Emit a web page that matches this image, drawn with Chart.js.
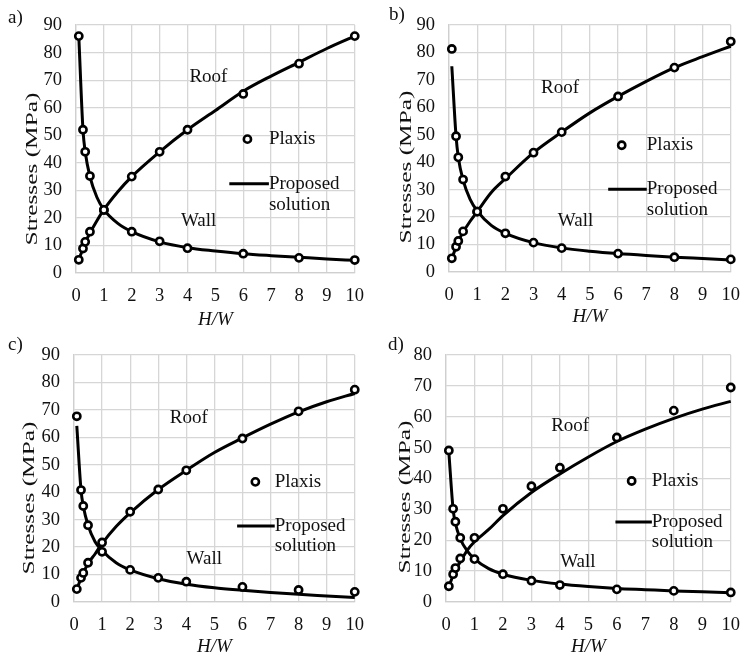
<!DOCTYPE html>
<html>
<head>
<meta charset="utf-8">
<script src="https://cdn.jsdelivr.net/npm/chart.js@4.4.1/dist/chart.umd.min.js"></script>
<style>
  body { margin: 0; background: #fff; }
  .panel { position: absolute; width: 376px; height: 330px; }
</style>
</head>
<body>
<div class="panel" style="left:0;top:0"><canvas id="chartA"></canvas></div>
<div class="panel" style="left:376px;top:0"><canvas id="chartB"></canvas></div>
<div class="panel" style="left:0;top:330px"><canvas id="chartC"></canvas></div>
<div class="panel" style="left:376px;top:330px"><canvas id="chartD"></canvas></div>
<script>
// H/W values
const hwPlaxis = [0.1, 0.25, 0.33, 0.5, 1, 2, 3, 4, 6, 8, 10];
const hwCurve = [0.1, 0.25, 0.33, 0.5, 0.75, 1, 1.5, 2, 3, 4, 5, 6, 7, 8, 9, 10];
const xTicks = [0, 1, 2, 3, 4, 5, 6, 7, 8, 9, 10];

// a)
const roofPlaxisA = [4.8, 8.9, 11.3, 15, 22.9, 35, 44, 52, 65, 76, 86];
const wallPlaxisA = [86, 52, 44, 35.2, 22.9, 15, 11.5, 9, 7, 5.5, 4.7];
const roofCurveA = [4.8, 8.9, 11, 14.5, 19, 23, 29.5, 35, 44, 52, 59, 66, 71.5, 76.5, 81.5, 86];
const wallCurveA = [86, 52, 44, 35, 27.5, 23, 18, 15, 11.3, 9.2, 8, 7, 6.3, 5.7, 5.1, 4.6];

// b)
const roofPlaxisB = [5, 9.2, 11.3, 14.8, 22, 34.8, 43.5, 51, 64, 74.5, 84];
const wallPlaxisB = [81.3, 49.5, 41.8, 33.7, 22, 14.1, 10.7, 8.7, 6.7, 5.4, 4.6];
const roofCurveB = [5, 9, 11.2, 14.5, 18.5, 22, 29, 34, 43.5, 51, 58, 64, 69.5, 74.5, 78.5, 82.3];
const wallCurveB = [75, 49.5, 41.8, 33.5, 26.5, 22.3, 17, 14.1, 10.7, 8.8, 7.6, 6.7, 6, 5.4, 4.9, 4.4];

// c)
const roofPlaxisC = [4.7, 8.8, 10.6, 14.3, 21.7, 32.9, 41, 48, 59.6, 69.5, 77.4];
const wallPlaxisC = [67.7, 40.8, 35, 28, 18.3, 11.7, 8.8, 7.4, 5.5, 4.4, 3.7];
const roofCurveC = [4.7, 8.6, 10.5, 14, 17.5, 21.3, 27.5, 32.5, 41, 48, 54.5, 59.8, 64.8, 69.3, 73, 76];
const wallCurveC = [64.2, 40.8, 35, 28, 22, 18.8, 14.3, 11.7, 8.5, 6.5, 5.2, 4.3, 3.5, 2.8, 2.2, 1.6];

// d)
const roofPlaxisD = [5.1, 9, 11, 14.1, 20.8, 30.2, 37.5, 43.5, 53.3, 62, 69.5];
const wallPlaxisD = [49.1, 30.2, 26, 20.8, 13.9, 9, 6.9, 5.5, 4.1, 3.6, 3.1];
const roofCurveD = [5, 8.6, 10.3, 13, 16.8, 19.5, 23.5, 28, 35.5, 41.5, 47, 52, 56, 59.5, 62.5, 65];
const wallCurveD = [48.5, 30, 25.5, 20.5, 16.5, 14, 10.8, 9, 7, 5.8, 5, 4.4, 4, 3.6, 3.3, 3];

const FONT = '"Liberation Serif", "Times New Roman", serif';
Chart.defaults.font.family = FONT;
Chart.defaults.color = '#111';

// texts inside the plot: Roof, Wall, legend, panel letter, y title
const notesPlugin = {
    id: 'notes',
    afterDatasetsDraw(chart, args, o) {
        const { ctx, scales: { x, y } } = chart;
        const px = (v) => x.getPixelForValue(v);
        const py = (v) => y.getPixelForValue(v);
        ctx.save();
        ctx.fillStyle = '#111';
        ctx.textBaseline = 'middle';
        ctx.font = '19px ' + FONT;

        ctx.textAlign = 'center';
        ctx.fillText('Roof', px(o.roof[0]), py(o.roof[1]));
        ctx.fillText('Wall', px(o.wall[0]), py(o.wall[1]));

        // legend
        ctx.textAlign = 'left';
        ctx.beginPath();
        ctx.arc(px(o.dot[0]), py(o.dot[1]), 3.6, 0, Math.PI * 2);
        ctx.fillStyle = '#fff';
        ctx.fill();
        ctx.lineWidth = 2.6;
        ctx.strokeStyle = '#000';
        ctx.stroke();
        ctx.fillStyle = '#111';
        ctx.fillText('Plaxis', px(o.textX), py(o.dot[1]));

        ctx.beginPath();
        ctx.moveTo(px(o.line[0]), py(o.line[2]));
        ctx.lineTo(px(o.line[1]), py(o.line[2]));
        ctx.lineWidth = 3;
        ctx.stroke();
        ctx.fillText('Proposed', px(o.textX), py(o.line[2]));
        ctx.fillText('solution', px(o.textX), py(o.solY));

        // panel letter
        ctx.fillText(o.letter, o.letterPos[0], o.letterPos[1]);

        // y axis title
        ctx.translate(o.titlePos[0], o.titlePos[1]);
        ctx.rotate(-Math.PI / 2);
        ctx.scale(1.45, 1);
        ctx.textAlign = 'center';
        ctx.font = '17.5px ' + FONT;
        ctx.fillText('Stresses (MPa)', 0, 0);
        ctx.restore();
    }
};

function pts(xs, ys) {
    return xs.map((v, i) => ({ x: v, y: ys[i] }));
}

function makeChart(id, roofP, wallP, roofC, wallC, s) {
    const pointStyle = {
        showLine: false,
        pointRadius: 3.6,
        pointBorderWidth: 2.6,
        pointBackgroundColor: '#fff',
        pointBorderColor: '#000',
        clip: false,
        order: 0
    };
    const lineStyle = {
        showLine: true,
        borderColor: '#000',
        borderWidth: 3,
        pointRadius: 0,
        cubicInterpolationMode: 'monotone',
        clip: false,
        order: 1
    };
    return new Chart(document.getElementById(id), {
        type: 'scatter',
        data: {
            datasets: [
                { label: 'Plaxis roof', data: pts(hwPlaxis, roofP), ...pointStyle },
                { label: 'Plaxis wall', data: pts(hwPlaxis, wallP), ...pointStyle },
                { label: 'Proposed roof', data: pts(hwCurve, roofC), ...lineStyle },
                { label: 'Proposed wall', data: pts(hwCurve, wallC), ...lineStyle }
            ]
        },
        options: {
            responsive: true,
            maintainAspectRatio: false,
            animation: false,
            layout: { padding: { top: s.top, right: s.right, left: 0, bottom: 0 } },
            scales: {
                x: {
                    type: 'linear',
                    min: 0,
                    max: 10,
                    afterBuildTicks: (sc) => { sc.ticks = xTicks.map(v => ({ value: v })); },
                    afterFit: (sc) => { sc.height = s.xHeight; },
                    grid: { color: '#d6d6d6', lineWidth: 1.3, drawTicks: false },
                    border: { color: '#cfcfcf', width: 1.3 },
                    ticks: { padding: 12, color: '#111', font: { size: 18.5 } },
                    title: {
                        display: true,
                        text: 'H/W',
                        color: '#111',
                        padding: { top: 0, bottom: s.xTitlePad },
                        font: { size: 19, style: 'italic' }
                    }
                },
                y: {
                    min: 0,
                    max: s.yMax,
                    ticks: { stepSize: 10, padding: 14, color: '#111', font: { size: 18.5 } },
                    afterFit: (sc) => { sc.width = s.yWidth; },
                    grid: { color: '#d6d6d6', lineWidth: 1.3, drawTicks: false },
                    border: { color: '#cfcfcf', width: 1.3 }
                }
            },
            plugins: {
                legend: { display: false },
                tooltip: { enabled: false },
                notes: s.notes
            }
        },
        plugins: [notesPlugin]
    });
}

const chartA = makeChart('chartA', roofPlaxisA, wallPlaxisA, roofCurveA, wallCurveA, {
    top: 23, right: 14, yWidth: 76, xHeight: 57, yMax: 90, xTitlePad: -1,
    notes: {
        roof: [4.75, 71.2], wall: [4.4, 19], dot: [6.15, 48.6], textX: 6.92,
        line: [5.5, 6.92, 32.4], solY: 24.8,
        letter: 'a)', letterPos: [8, 18], titlePos: [32, 169]
    }
});

const chartB = makeChart('chartB', roofPlaxisB, wallPlaxisB, roofCurveB, wallCurveB, {
    top: 13, right: 11, yWidth: 73, xHeight: 58, yMax: 90, xTitlePad: 2,
    notes: {
        roof: [3.94, 67], wall: [4.49, 18.7], dot: [6.13, 46.2], textX: 7.02,
        line: [5.65, 7.02, 30.2], solY: 22.6,
        letter: 'b)', letterPos: [13, 15], titlePos: [30, 167]
    }
});

const chartC = makeChart('chartC', roofPlaxisC, wallPlaxisC, roofCurveC, wallCurveC, {
    top: 15, right: 11, yWidth: 74, xHeight: 58, yMax: 90, xTitlePad: 2,
    notes: {
        roof: [4.09, 66.9], wall: [4.64, 15.8], dot: [6.46, 43.8], textX: 7.15,
        line: [5.81, 7.15, 27.7], solY: 20.3,
        letter: 'c)', letterPos: [8, 15], titlePos: [29, 168]
    }
});

const chartD = makeChart('chartD', roofPlaxisD, wallPlaxisD, roofCurveD, wallCurveD, {
    top: 13, right: 10, yWidth: 70, xHeight: 58, yMax: 80, xTitlePad: 2,
    notes: {
        roof: [4.36, 57.1], wall: [4.63, 13], dot: [6.52, 39.2], textX: 7.23,
        line: [5.95, 7.23, 25.9], solY: 19.5,
        letter: 'd)', letterPos: [12, 15], titlePos: [29, 167]
    }
});
</script>
</body>
</html>
